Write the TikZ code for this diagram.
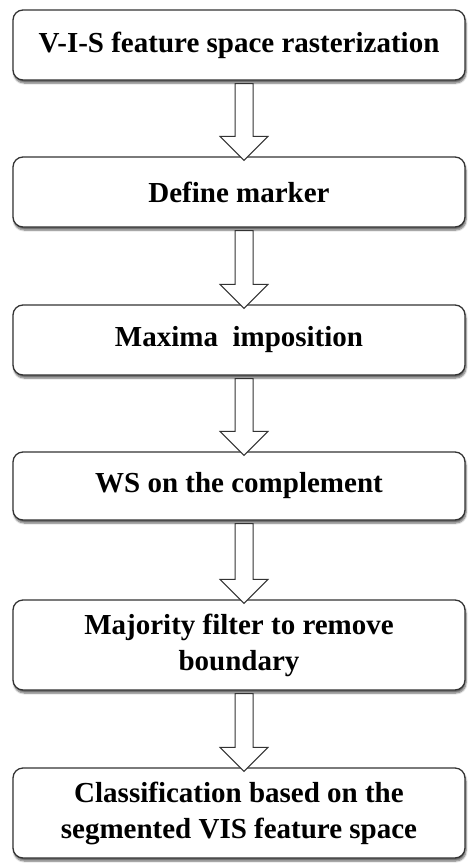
\documentclass[tikz,border=0pt]{standalone}
\usepackage{fontspec}
\setmainfont{Liberation Serif}
\usetikzlibrary{calc,shadows.blur}
\tikzset{
  stepbox/.style={draw=black!80, line width=1.3pt, rounded corners=10pt, fill=white,
    minimum width=452pt, inner sep=0pt, align=center,
    font=\fontsize{29}{36}\selectfont\bfseries,
    blur shadow={shadow xshift=1pt, shadow yshift=-3pt, shadow blur steps=6, shadow opacity=60, shadow blur extra rounding=2pt}},
  hollow/.style={draw=black!80, line width=1pt, fill=white, line join=miter}
}
\newcommand\flowarrow[2]{%
  \path ($(#1.south)+(5pt,-3pt)$) coordinate (s#1)
        ($(#2.north)+(5pt,-4pt)$) coordinate (t#1)
        ($(t#1)+(0,24pt)$) coordinate (h#1);
  \draw[hollow] ($(s#1)+(-9pt,0)$) -- ($(h#1)+(-9pt,0)$) -- ($(h#1)+(-24pt,0)$)
     -- (t#1) -- ($(h#1)+(24pt,0)$) -- ($(h#1)+(9pt,0)$) -- ($(s#1)+(9pt,0)$) -- cycle;
}
\begin{document}
\begin{tikzpicture}[x=1pt,y=1pt]
\useasboundingbox (0,0) rectangle (467,-863);
\node[stepbox, minimum height=70pt] (b1) at (239,-45) {V-I-S feature space rasterization};
\node[stepbox, minimum height=70pt] (b2) at (239,-192) {Define marker};
\node[stepbox, minimum height=70pt] (b3) at (239,-340) {Maxima\ \ imposition};
\node[stepbox, minimum height=68pt] (b4) at (239,-486) {WS on the complement};
\node[stepbox, minimum height=90pt] (b5) at (239,-645) {Majority filter to remove\\boundary};
\node[stepbox, minimum height=90pt] (b6) at (239,-813) {Classification based on the\\segmented VIS feature space};
\flowarrow{b1}{b2}
\flowarrow{b2}{b3}
\flowarrow{b3}{b4}
\flowarrow{b4}{b5}
\flowarrow{b5}{b6}
\end{tikzpicture}
\end{document}
